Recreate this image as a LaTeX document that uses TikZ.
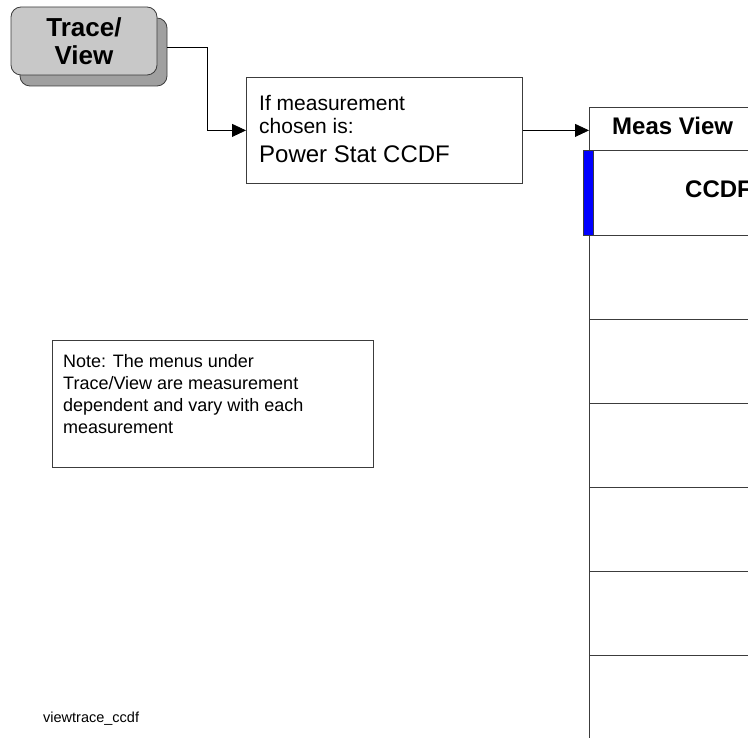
\documentclass[tikz,border=0pt]{standalone}
\usepackage{fontspec}
\setmainfont{Liberation Sans}
\usepackage{xcolor}
\usepackage{tikz}
\usetikzlibrary{arrows.meta,positioning}
\definecolor{btnface}{RGB}{200,200,200}
\definecolor{btnshade}{RGB}{160,160,160}
\definecolor{edge}{RGB}{60,60,60}
\definecolor{selblue}{RGB}{0,0,255}
\newcommand{\px}[2]{\fontsize{#1}{#2}\selectfont}

\begin{document}
\begin{tikzpicture}[
  x=1pt,y=-1pt,
  every node/.style={inner sep=0pt,text=black},
  btnbox/.style={draw=edge,line width=0.8pt,rounded corners=10pt,minimum width=146pt,minimum height=68pt},
  box/.style={draw=edge,line width=0.8pt,anchor=north west},
  mrow/.style={draw=edge,line width=1pt,anchor=north west,minimum width=200pt,minimum height=84pt},
  conn/.style={draw=black,line width=0.8pt,-{Triangle[length=14pt,width=13pt]}},
  txt/.style={anchor=north west,align=left}
]
  \useasboundingbox (0,0) rectangle (748,738);
  \clip (0,0) rectangle (748,738);

  % key with its raised edge
  \draw[fill=btnshade,draw=edge,line width=0.8pt,rounded corners=10pt] (20,18) rectangle (167,86);
  \node[btnbox,fill=btnface,align=center,font=\bfseries\px{26}{28}] (btn) at (84,41) {Trace/\\View};

  \node[box,minimum width=276pt,minimum height=106pt] (ifbox) at (246,77) {};
  \node[txt,font=\px{21}{23}] (iftxt) at (259,95) {If measurement\\chosen is:\\[6pt]{\px{24}{29}Power Stat CCDF}};

  % menu column
  \node[box,line width=1pt,minimum width=200pt,minimum height=43pt] (mhead) at (589,107) {};
  \node[anchor=base west,font=\bfseries\px{24}{28}] (mtitle) at (612,135) {Meas View};
  \node[mrow,minimum height=85pt] (r0) at (589,150) {};
  \foreach \i in {1,...,6}
    \node[mrow] (r\i) at (589,{151+84*\i}) {};
  \node[draw=edge,fill=selblue,line width=0.8pt,minimum width=10pt,minimum height=85pt] (sel) at (588,192.5) {};
  \node[anchor=base west,font=\bfseries\px{24}{28}] (ccdf) at (685,198) {CCDF};

  \coordinate (btnout) at (167,47);
  \draw[conn] (btnout) -- ++(40,0) |- (ifbox.west);
  \draw[conn] (ifbox.east) -- (mhead.west |- ifbox.east);

  \node[box,minimum width=321pt,minimum height=127pt] (note) at (52,340) {};
  \node[txt,font=\px{18}{22}] (notetxt) at (63,354) {Note: The menus under\\Trace/View are measurement\\dependent and vary with each\\measurement};

  \node[anchor=base west,font=\px{14.5}{17}] (tag) at (43,722) {viewtrace\_ccdf};
\end{tikzpicture}
\end{document}
